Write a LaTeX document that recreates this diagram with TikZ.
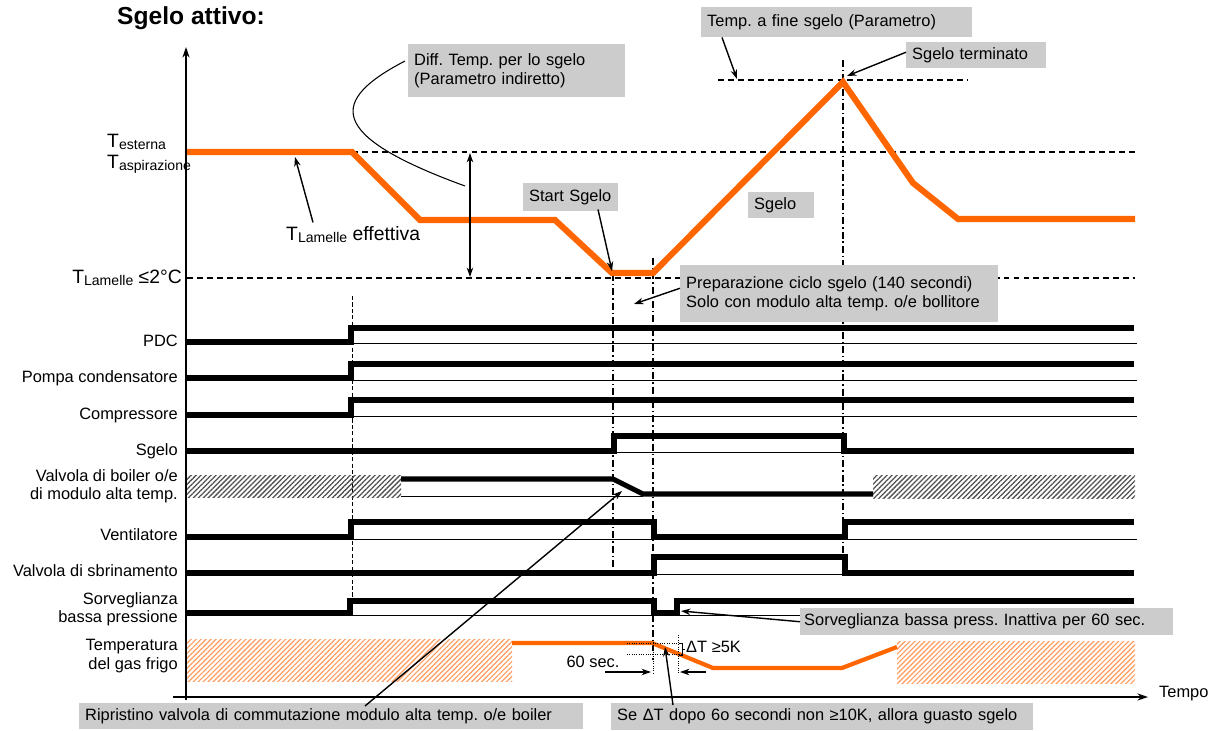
\documentclass[tikz,border=0pt]{standalone}
\usepackage{fontspec}
\setmainfont{Liberation Sans}
\usetikzlibrary{arrows.meta,patterns.meta,calc}

\definecolor{orng}{HTML}{FF6600}
\definecolor{hatchorng}{HTML}{FF9A5A}
\definecolor{boxgray}{HTML}{CCCCCC}
\definecolor{hatchgray}{HTML}{505050}

\newcommand\lblfont{\fontsize{14}{15.5}\selectfont}
\newcommand\tmain{\fontsize{16.5}{18}\selectfont}
\newcommand\tsub[1]{\raisebox{-2.5pt}{\fontsize{12}{12}\selectfont #1}}

\begin{document}
\frenchspacing
\begin{tikzpicture}[x=0.03cm,y=-0.03cm,font=\lblfont,
  sig/.style={line width=4.3pt, line join=miter},
  base/.style={line width=0.75pt},
  tcurve/.style={draw=orng, line width=5.2pt, line join=miter},
  gcurve/.style={draw=orng, line width=3.6pt, line join=miter},
  level/.style={line width=1.1pt, dash pattern=on 5pt off 3.5pt},
  marker/.style={line width=1pt, dash pattern=on 6pt off 2.5pt on 1.2pt off 2.5pt},
  fineline/.style={line width=0.8pt, dash pattern=on 3.5pt off 2pt},
  dotline/.style={line width=0.7pt, dash pattern=on 0.8pt off 1.2pt},
  axis/.style={line width=1.3pt, -{Stealth[length=9pt,width=6pt]}},
  arr/.style={line width=1.2pt, -{Stealth[length=8pt,width=5.5pt]}},
  dblarr/.style={line width=1.2pt, {Stealth[length=8pt,width=5.5pt]}-{Stealth[length=8pt,width=5.5pt]}},
  callout/.style={fill=boxgray, anchor=north west, align=left, inner xsep=0.18cm, inner ysep=0pt},
  sigl/.style={anchor=east, align=right, inner sep=0pt},
  hatchg/.style={pattern={Lines[angle=45,distance=3pt,line width=1.1pt]}, pattern color=hatchgray},
  hatcho/.style={pattern={Lines[angle=45,distance=3pt,line width=1pt]}, pattern color=hatchorng}]

\useasboundingbox (0,0) rectangle (1221,731);

% reference levels of the fin temperature
\draw[level] (352,152) -- (1135,152);
\draw[level] (187,278) -- (1135,278);
\draw[level] (718,80) -- (968,80);

% time markers
\draw[fineline] (352,296) -- (352,612);
\draw[marker] (613,274) -- (613,572);
\draw[marker] (653,258) -- (653,660);
\draw[marker] (843,60) -- (843,573);

% undefined states
\path[hatchg] (187,475) rectangle (401,497);
\path[hatchg] (873,475) rectangle (1135,498);
\path[hatcho] (187,639) rectangle (512,681);
\path[hatcho] (897,641) rectangle (1135,683);

% signal baselines
\draw[base] (351,343.5) -- (1137,343.5);
\draw[base] (351,380) -- (1137,380);
\draw[base] (351,416.5) -- (1137,416.5);
\draw[base] (614,452.5) -- (844,452.5);
\draw[base] (401,496) -- (643,496);
\draw[base] (351,539) -- (1137,539);
\draw[base] (654,574.5) -- (845,574.5);
\draw[base] (350,615) -- (1137,615);

% digital signals
\draw[sig] (187,342) -- (351,342) -- (351,328) -- (1134,328);
\draw[sig] (187,378) -- (351,378) -- (351,364) -- (1134,364);
\draw[sig] (187,415) -- (351,415) -- (351,400) -- (1134,400);
\draw[sig] (187,451) -- (614,451) -- (614,436) -- (844,436) -- (844,451) -- (1134,451);
\draw[sig] (401,479) -- (613,479) -- (643,494) -- (873,494);
\draw[sig] (187,537) -- (351,537) -- (351,522) -- (654,522) -- (654,537) -- (845,537) -- (845,522) -- (1134,522);
\draw[sig] (187,573) -- (654,573) -- (654,557) -- (845,557) -- (845,573) -- (1134,573);
\draw[sig] (187,613) -- (350,613) -- (350,601) -- (654,601) -- (654,613) -- (677,613) -- (677,601) -- (1134,601);

% fin temperature and refrigerant gas temperature
\draw[tcurve] (187,152) -- (352,152) -- (420,220) -- (555,220) -- (612,273) -- (653,273)
  -- (843,82) -- (913,183) -- (958,219) -- (1135,219);
\draw[gcurve] (512,643) -- (652,643) -- (713,668) -- (842,668) -- (897,647);

% delta T detail
\draw[dotline] (627,643) -- (681,643);
\draw[dotline] (627,654) -- (681,654);
\draw[dotline] (653,640) -- (653,675);
\draw[dotline] (678,635) -- (678,674);
\draw[line width=0.7pt] (679,643) -- (682,643) -- (682,655) -- (679,655);
\draw[line width=0.7pt] (682,649) -- (685,649);
\node[anchor=west, inner sep=0] (dT) at (686,647) {ΔT ≥5K};
\node[inner sep=0] (sec) at (593,662) {60 sec.};
\coordinate (secL1) at (605,672);
\coordinate (secL2) at (651,672);
\coordinate (secR1) at (706,672);
\coordinate (secR2) at (680,672);
\draw[arr] (secL1) -- (secL2);
\draw[arr] (secR1) -- (secR2);

% title and temperature labels
\node[anchor=base west, inner sep=0, font=\fontsize{21}{25}\bfseries\selectfont] (title) at (117,25) {Sgelo attivo:};
\node[anchor=base west, inner sep=0, font=\tmain] (testerna) at (107,147) {T\tsub{esterna}};
\node[anchor=base west, inner sep=0, font=\tmain] (taspir) at (107,168) {T\tsub{aspirazione}};
\node[anchor=base east, inner sep=0, font=\tmain] (tlam) at (182,283) {T\tsub{Lamelle} ≤2°C};
\node[anchor=base west, inner sep=0, font=\tmain] (tleff) at (286,240) {T\tsub{Lamelle} effettiva};

% signal names
\node[sigl] (lPDC) at (178,341) {PDC};
\node[sigl] (lPompa) at (178,378) {Pompa condensatore};
\node[sigl] (lComp) at (178,415) {Compressore};
\node[sigl] (lSgelo) at (178,451) {Sgelo};
\node[sigl] (lValv) at (178,486) {Valvola di boiler o/e\\di modulo alta temp.};
\node[sigl] (lVent) at (178,535) {Ventilatore};
\node[sigl] (lSbrin) at (178,571) {Valvola di sbrinamento};
\node[sigl] (lSorv) at (178,609) {Sorveglianza\\bassa pressione};
\node[sigl] (lGas) at (178,656) {Temperatura\\del gas frigo};

% callouts
\node[callout, minimum height=1.59cm, text width=6.15cm] (diffbox) at (408,44) {Diff. Temp. per lo sgelo\\(Parametro indiretto)};
\node[callout, minimum height=0.84cm, text width=2.49cm] (startbox) at (523,183) {Start Sgelo};
\node[callout, minimum height=0.9cm, text width=7.77cm] (tempbox) at (701,7) {Temp. a fine sgelo (Parametro)};
\node[callout, minimum height=0.78cm, text width=3.84cm] (termbox) at (906,42) {Sgelo terminato};
\node[callout, minimum height=0.78cm, text width=1.62cm] (sgelobox) at (748,192) {Sgelo};
\node[callout, minimum height=1.71cm, text width=9.18cm] (prepbox) at (680,265) {Preparazione ciclo sgelo (140 secondi)\\Solo con modulo alta temp. o/e bollitore};
\node[callout, minimum height=0.81cm, text width=10.95cm, inner xsep=0.12cm] (sorvbox) at (800,608) {Sorveglianza bassa press. Inattiva per 60 sec.};
\node[callout, minimum height=0.78cm, text width=14.76cm] (riprbox) at (79,703) {Ripristino valvola di commutazione modulo alta temp. o/e boiler};
\node[callout, minimum height=0.81cm, text width=12.3cm] (sebox) at (611,703) {Se ΔT dopo 6o secondi non ≥10K, allora guasto sgelo};

% callout targets
\coordinate (tFin) at (737,79);
\coordinate (tTerm) at (847,76);
\coordinate (tStart) at (612,271);
\coordinate (tPrep) at (634,304);
\coordinate (tSorv) at (681,611);
\coordinate (tRipr) at (622,491);
\coordinate (tSe) at (665,647);
\coordinate (tLeff) at (295,157);
\coordinate (dEnd) at (465,186);
\coordinate (dTop) at (470,153);
\coordinate (dBot) at (470,277);

\draw[arr] ([xshift=0.63cm]tempbox.south west) -- (tFin);
\draw[arr] ([yshift=0.09cm]termbox.west) -- (tTerm);
\draw[arr] ([xshift=2.25cm,yshift=0.06cm]startbox.south west) -- (tStart);
\draw[arr] ([yshift=0.165cm]prepbox.west) -- (tPrep);
\draw[arr] (sorvbox.west) -- (tSorv);
\draw[arr] ([xshift=8.58cm,yshift=-0.09cm]riprbox.north west) -- (tRipr);
\draw[arr] ([xshift=1.86cm,yshift=-0.06cm]sebox.north west) -- (tSe);
\draw[arr] ([xshift=0.81cm,yshift=0.1cm]tleff.north west) -- (tLeff);
\draw[line width=0.9pt] ([xshift=-0.09cm,yshift=-0.51cm]diffbox.north west)
  .. controls (330,100) and (325,135) .. (dEnd);
\draw[dblarr] (dTop) -- (dBot);

% axes
\coordinate (yb) at (186,700);
\coordinate (yt) at (186,47);
\coordinate (xl) at (173,697);
\coordinate (xr) at (1148,697);
\draw[axis] (yb) -- (yt);
\draw[axis] (xl) -- (xr);
\node[anchor=west, inner sep=0] (tempo) at (1159,694) {Tempo};

\end{tikzpicture}
\end{document}
